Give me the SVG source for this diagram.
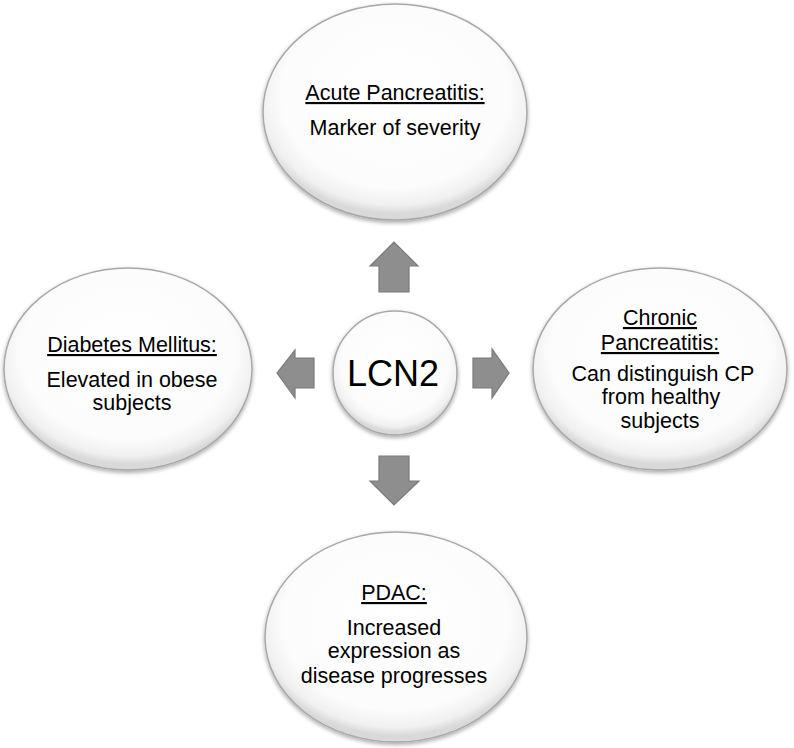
<svg xmlns="http://www.w3.org/2000/svg" width="794" height="748" viewBox="0 0 794 748">
<defs>
<radialGradient id="bub" cx="50%" cy="42%" r="55%">
<stop offset="0" stop-color="#ffffff"/>
<stop offset="0.78" stop-color="#fcfcfc"/>
<stop offset="0.93" stop-color="#f0f0f0"/>
<stop offset="1" stop-color="#d9d9d9"/>
</radialGradient>
<filter id="sh" x="-10%" y="-10%" width="120%" height="125%">
<feGaussianBlur in="SourceAlpha" stdDeviation="2"/>
<feOffset dx="0" dy="2" result="b"/>
<feComponentTransfer><feFuncA type="linear" slope="0.35"/></feComponentTransfer>
<feMerge><feMergeNode/><feMergeNode in="SourceGraphic"/></feMerge>
</filter>
</defs>
<style>
.bubble{fill:url(#bub);stroke:#a8a8a8;stroke-width:1.5;filter:url(#sh)}
.t{font-family:"Liberation Sans",Arial,sans-serif;font-size:21.5px;fill:#000;text-anchor:middle}
.h{text-decoration:underline}
.big{font-family:"Liberation Sans",Arial,sans-serif;font-size:36px;fill:#000;text-anchor:middle}
.arr{fill:#8e8e8e;stroke:#7a7a7a;stroke-width:1.2;stroke-linejoin:miter}
</style>
<rect width="794" height="748" fill="#ffffff"/>
<g id="connectors">
<polygon class="arr" points="379,292 379,266 370,266 394,242 418,266 409,266 409,292"/>
<polygon class="arr" points="379,456 409,456 409,481 419,481 394,505 370,481 379,481"/>
<polygon class="arr" points="314,358 314,388 295,388 295,398 277,373 295,350 295,358"/>
<polygon class="arr" points="473,358 492,358 492,349 509,373 492,398 492,388 473,388"/>
</g>
<g id="acute">
<ellipse class="bubble" cx="395" cy="112" rx="132" ry="108"/>
<text class="t h" x="395" y="100">Acute Pancreatitis:</text>
<text class="t" x="395" y="135">Marker of severity</text>
</g>
<g id="diabetes">
<ellipse class="bubble" cx="128" cy="369" rx="124" ry="101"/>
<text class="t h" x="132" y="352">Diabetes Mellitus:</text>
<text class="t" x="132" y="387">Elevated in obese</text>
<text class="t" x="132" y="410">subjects</text>
</g>
<g id="chronic">
<ellipse class="bubble" cx="660" cy="369" rx="127" ry="101"/>
<text class="t h" x="660" y="325">Chronic</text>
<text class="t h" x="660" y="350">Pancreatitis:</text>
<text class="t" x="663" y="381">Can distinguish CP</text>
<text class="t" x="661" y="404">from healthy</text>
<text class="t" x="660" y="428">subjects</text>
</g>
<g id="pdac">
<ellipse class="bubble" cx="396" cy="637" rx="131" ry="105"/>
<text class="t h" x="394" y="600">PDAC:</text>
<text class="t" x="394" y="635">Increased</text>
<text class="t" x="394" y="658">expression as</text>
<text class="t" x="394" y="683">disease progresses</text>
</g>
<g id="lcn2">
<circle class="bubble" cx="395" cy="373" r="62"/>
<text class="big" x="393" y="386">LCN2</text>
</g>
</svg>
